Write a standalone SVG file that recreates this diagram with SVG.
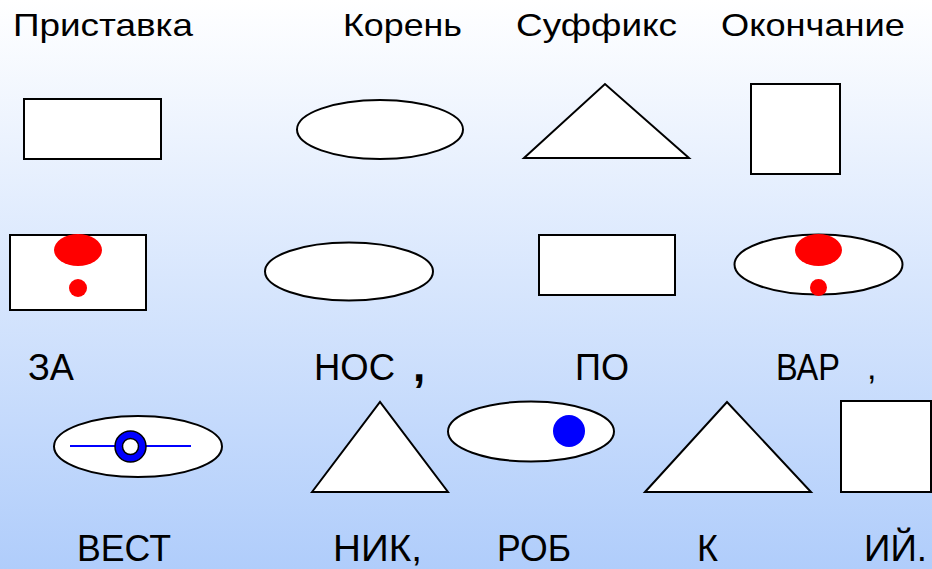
<svg xmlns="http://www.w3.org/2000/svg" width="932" height="569" viewBox="0 0 932 569">
<defs>
<linearGradient id="bg" x1="0" y1="0" x2="0" y2="1">
<stop offset="0" stop-color="#ffffff"/>
<stop offset="1" stop-color="#b0cdfb"/>
</linearGradient>
</defs>
<style>
.s{fill:#fff;stroke:#000;stroke-width:2}
.t{font-family:"Liberation Sans",Arial,sans-serif;fill:#000}
.h{font-size:32px}
.m{font-size:36px}
.red{fill:#ff0000}
</style>
<rect width="932" height="569" fill="url(#bg)"/>
<g id="headers">
<text class="t h" x="13" y="36" textLength="180" lengthAdjust="spacingAndGlyphs">Приставка</text>
<text class="t h" x="343" y="36" textLength="119" lengthAdjust="spacingAndGlyphs">Корень</text>
<text class="t h" x="516" y="36" textLength="161" lengthAdjust="spacingAndGlyphs">Суффикс</text>
<text class="t h" x="721" y="36" textLength="184" lengthAdjust="spacingAndGlyphs">Окончание</text>
</g>
<g id="row1">
<g id="n-pref1"><rect class="s" x="24" y="99" width="137" height="60"/></g>
<g id="n-root1"><ellipse class="s" cx="380" cy="129.5" rx="83" ry="29.5"/></g>
<g id="n-suf1"><polygon class="s" points="524,158 605,84 689,158"/></g>
<g id="n-end1"><rect class="s" x="751" y="84" width="89" height="90"/></g>
</g>
<g id="row2">
<g id="n-pref2"><rect class="s" x="10" y="235" width="136" height="75"/>
<ellipse class="red" cx="78" cy="250" rx="24" ry="16"/><circle class="red" cx="78" cy="288" r="9"/></g>
<g id="n-root2"><ellipse class="s" cx="349" cy="271.5" rx="84" ry="29"/></g>
<g id="n-suf2"><rect class="s" x="539" y="235" width="136" height="60"/></g>
<g id="n-end2"><ellipse class="s" cx="818.5" cy="264.5" rx="84" ry="30"/>
<ellipse class="red" cx="818.5" cy="250" rx="23.5" ry="16"/><circle class="red" cx="818.5" cy="287.5" r="8.5"/></g>
</g>
<g id="words1">
<text class="t m" x="28" y="380" textLength="46" lengthAdjust="spacingAndGlyphs">ЗА</text>
<text class="t m" x="314" y="380" textLength="81" lengthAdjust="spacingAndGlyphs">НОС</text>
<text class="t" x="413" y="381" font-size="44" font-weight="bold">,</text>
<text class="t m" x="575" y="380" textLength="54" lengthAdjust="spacingAndGlyphs">ПО</text>
<text class="t m" x="776" y="380" textLength="64" lengthAdjust="spacingAndGlyphs">ВАР</text>
<text class="t" x="867" y="379" font-size="34">,</text>
</g>
<g id="row3">
<g id="n-a"><ellipse class="s" cx="138" cy="446.5" rx="84" ry="30.5"/>
<line x1="70" y1="446" x2="191" y2="446" stroke="#0000ff" stroke-width="2"/>
<circle cx="130.5" cy="446.5" r="15.5" fill="#0000ff" stroke="#000" stroke-width="1.5"/>
<circle cx="130.5" cy="446.5" r="8" fill="#fff" stroke="#000" stroke-width="1.5"/></g>
<g id="n-b"><polygon class="s" points="312,492 380,402 448,492"/></g>
<g id="n-c"><ellipse class="s" cx="531" cy="431.5" rx="83" ry="30"/>
<circle cx="569" cy="431" r="16" fill="#0000ff"/></g>
<g id="n-d"><polygon class="s" points="645,492 727,402 811,492"/></g>
<g id="n-e"><rect class="s" x="841" y="401" width="90" height="91"/></g>
</g>
<g id="words2">
<text class="t m" transform="translate(77,561) scale(1,1.05)" textLength="94" lengthAdjust="spacingAndGlyphs">ВЕСТ</text>
<text class="t m" transform="translate(333,561) scale(1,1.05)" textLength="89" lengthAdjust="spacingAndGlyphs">НИК,</text>
<text class="t m" transform="translate(497,561) scale(1,1.05)" textLength="74" lengthAdjust="spacingAndGlyphs">РОБ</text>
<text class="t m" transform="translate(697,561) scale(1,1.05)" textLength="21" lengthAdjust="spacingAndGlyphs">К</text>
<text class="t m" transform="translate(864,561) scale(1,1.05)" textLength="63" lengthAdjust="spacingAndGlyphs">ИЙ.</text>
</g>
</svg>
